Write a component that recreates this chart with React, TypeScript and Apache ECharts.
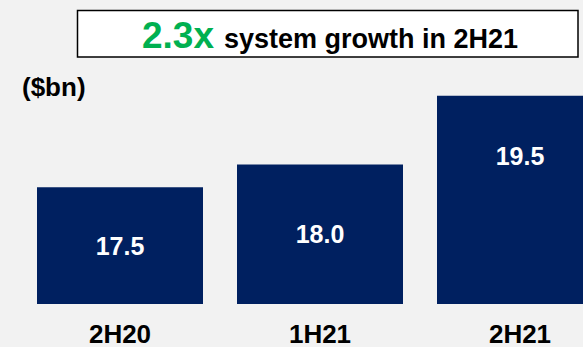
import React, { useEffect, useRef } from "react";
import * as echarts from "echarts";

const categories = ["2H20", "1H21", "2H21"];
const values = [17.5, 18.0, 19.5];
const headlineMultiple = "2.3x";
const headlineText = "system growth in 2H21";
const unitLabel = "($bn)";

const FONT = "'Liberation Sans', Arial, Helvetica, sans-serif";
const NAVY = "#002060";
const GREEN = "#00b050";

export default function App() {
  const ref = useRef<HTMLDivElement>(null);

  useEffect(() => {
    document.body.style.margin = "0";
    document.body.style.background = "#f2f2f2";
    const chart = echarts.init(ref.current!, undefined, { renderer: "svg" });

    const data = values.map((v, i) =>
      i === values.length - 1
        ? { value: v, label: { position: "insideTop", distance: 48 } }
        : { value: v }
    );

    chart.setOption({
      animation: false,
      backgroundColor: "#f2f2f2",
      grid: { left: 20, top: 73, width: 600, height: 233 },
      xAxis: {
        type: "category",
        data: categories,
        axisLine: { show: false },
        axisTick: { show: false },
        axisLabel: {
          margin: 17,
          fontSize: 26,
          fontWeight: "bold",
          color: "#000",
          fontFamily: FONT,
        },
      },
      yAxis: {
        type: "value",
        min: 14.95,
        max: 20,
        show: false,
        splitLine: { show: false },
      },
      series: [
        {
          type: "bar",
          data,
          barCategoryGap: "17%",
          itemStyle: { color: NAVY },
          label: {
            show: true,
            position: "inside",
            color: "#fff",
            fontSize: 25,
            fontWeight: "bold",
            fontFamily: FONT,
            formatter: (p: any) => Number(p.value).toFixed(1),
          },
        },
      ],
      graphic: [
        {
          type: "rect",
          shape: { x: 77.5, y: 10.5, width: 500.5, height: 46.5 },
          style: { fill: "#fff", stroke: "#000", lineWidth: 1.5 },
        },
        {
          type: "text",
          x: 214,
          y: 35.7,
          style: {
            text: headlineMultiple,
            fill: GREEN,
            font: `bold 37px ${FONT}`,
            textAlign: "right",
            textVerticalAlign: "middle",
          },
        },
        {
          type: "text",
          x: 224,
          y: 39.2,
          style: {
            text: headlineText,
            fill: "#000",
            font: `bold 27px ${FONT}`,
            textAlign: "left",
            textVerticalAlign: "middle",
          },
        },
        {
          type: "text",
          x: 22,
          y: 87,
          style: {
            text: unitLabel,
            fill: "#000",
            font: `bold 26px ${FONT}`,
            textAlign: "left",
            textVerticalAlign: "middle",
          },
        },
      ],
    });

    return () => chart.dispose();
  }, []);

  return (
    <div
      style={{
        position: "absolute",
        left: 0,
        top: 0,
        width: 583,
        height: 347,
        overflow: "hidden",
      }}
    >
      <div ref={ref} style={{ width: 640, height: 347 }} />
    </div>
  );
}
